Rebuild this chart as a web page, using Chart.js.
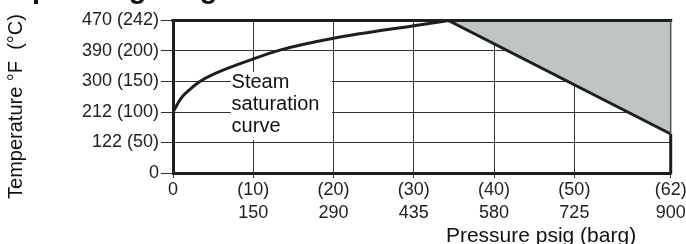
<!DOCTYPE html>
<html><head><meta charset="utf-8">
<script src="https://cdn.jsdelivr.net/npm/chart.js@4"></script>
<style>html,body{margin:0;padding:0;background:#fff}#wrap{width:686px;height:244px;position:relative}</style>
</head><body><div id="wrap"><canvas id="c" width="686" height="244"></canvas></div>
<script>
// Data (y values are in tick-level units: the axis ticks are equally spaced)
const pressureBarg = [0, 1.0, 1.9, 3.3, 4.8, 10, 13.3, 20, 30, 34.4];
const saturationLevel = [2.0, 2.45, 2.69, 2.99, 3.21, 3.74, 4.03, 4.42, 4.83, 5.0];
const limitBarg = [34.3, 62];
const limitLevel = [5.0, 1.28];
const yTickValues = [0, 1, 2, 3, 4, 5];
const yTickLabels = ['0', '122 (50)', '212 (100)', '300 (150)', '390 (200)', '470 (242)'];
const xTickValues = [0, 10, 20, 30, 40, 50, 62];
const xTickLabels = [['0'], ['(10)', '150'], ['(20)', '290'], ['(30)', '435'], ['(40)', '580'], ['(50)', '725'], ['(62)', '900']];
const curveLabel = ['Steam', 'saturation', 'curve'];
const chartTitle = 'Operating range';
const xTitle = 'Pressure psig (barg)';
const yTitle = 'Temperature °F  (°C)';

const FONT = "'Liberation Sans', Arial, Helvetica, sans-serif";
const INK = '#1e1e1e';

const decor = {
  id: 'decor',
  beforeDatasetsDraw(chart) {
    const {ctx, scales: {x, y}} = chart;
    ctx.save();
    ctx.fillStyle = '#ffffff';
    const x0 = x.getPixelForValue(7.2), x1 = x.getPixelForValue(19.8);
    const y0 = y.getPixelForValue(3.31), y1 = y.getPixelForValue(1.08);
    ctx.fillRect(x0, y0, x1 - x0, y1 - y0);
    ctx.restore();
  },
  afterDatasetsDraw(chart) {
    const {ctx, chartArea: a, scales: {x, y}} = chart;
    ctx.save();
    ctx.lineCap = 'butt';
    ctx.strokeStyle = INK; ctx.lineWidth = 3;
    ctx.beginPath(); ctx.moveTo(a.left - 1.5, a.top); ctx.lineTo(a.right + 1.5, a.top); ctx.stroke();
    const yEnd = y.getPixelForValue(limitLevel[1]);
    ctx.strokeStyle = '#555'; ctx.lineWidth = 1.5;
    ctx.beginPath(); ctx.moveTo(a.right, a.top); ctx.lineTo(a.right, yEnd); ctx.stroke();
    ctx.strokeStyle = INK; ctx.lineWidth = 3;
    ctx.beginPath(); ctx.moveTo(a.right, yEnd); ctx.lineTo(a.right, a.bottom + 1.5); ctx.stroke();
    ctx.restore();
  },
  afterDraw(chart) {
    const {ctx, scales: {x, y}} = chart;
    ctx.save();
    ctx.fillStyle = '#111';
    ctx.font = '20px ' + FONT;
    ctx.textAlign = 'left'; ctx.textBaseline = 'alphabetic';
    const lx = x.getPixelForValue(7.3);
    const levels = [2.80, 2.08, 1.36];
    curveLabel.forEach((t, i) => ctx.fillText(t, lx, y.getPixelForValue(levels[i])));
    ctx.font = '21px ' + FONT;
    ctx.textAlign = 'center';
    ctx.fillText(xTitle, 541, 241.5);
    ctx.save();
    ctx.translate(21.5, 106.5);
    ctx.rotate(-Math.PI / 2);
    ctx.textAlign = 'center';
    ctx.font = '20px ' + FONT;
    ctx.fillText(yTitle, 0, 0);
    ctx.restore();
    ctx.font = 'bold 29px ' + FONT;
    ctx.textAlign = 'left';
    ctx.fillText(chartTitle, 9.5, -2);
    ctx.restore();
  }
};

new Chart(document.getElementById('c'), {
  type: 'scatter',
  data: {
    datasets: [
      {
        data: limitBarg.map((v, i) => ({x: v, y: limitLevel[i]})),
        showLine: true, borderColor: INK, borderWidth: 3, pointRadius: 0,
        fill: 'end', backgroundColor: '#bec3c3'
      },
      {
        data: pressureBarg.map((v, i) => ({x: v, y: saturationLevel[i]})),
        showLine: true, borderColor: INK, borderWidth: 3, pointRadius: 0,
        cubicInterpolationMode: 'monotone', fill: false
      }
    ]
  },
  options: {
    responsive: false, animation: false, events: [],
    layout: {padding: {left: 0, right: 15.3, top: 20.5, bottom: 0}},
    plugins: {legend: {display: false}, tooltip: {enabled: false}, title: {display: false}},
    scales: {
      x: {
        type: 'linear', min: 0, max: 62,
        afterBuildTicks: s => { s.ticks = xTickValues.map(v => ({value: v})); },
        afterFit: s => { s.height = 71; s.paddingLeft = 0; s.paddingRight = 0; },
        ticks: {
          autoSkip: false, maxRotation: 0, padding: 1, color: '#222',
          font: {family: FONT, size: 18, lineHeight: 1.25},
          callback: (v, i) => xTickLabels[xTickValues.indexOf(v)]
        },
        grid: {color: '#333', lineWidth: 1, tickLength: 5, drawTicks: true},
        border: {display: true, color: INK, width: 3}
      },
      y: {
        type: 'linear', min: 0, max: 5,
        afterBuildTicks: s => { s.ticks = yTickValues.map(v => ({value: v})); },
        afterFit: s => { s.width = 173; s.paddingTop = 0; s.paddingBottom = 0; },
        ticks: {
          padding: 2, color: '#222',
          font: {family: FONT, size: 18},
          callback: v => yTickLabels[yTickValues.indexOf(v)]
        },
        grid: {color: '#333', lineWidth: 1, tickLength: 12, drawTicks: true},
        border: {display: true, color: INK, width: 3}
      }
    }
  },
  plugins: [decor]
});
</script>
</body></html>
